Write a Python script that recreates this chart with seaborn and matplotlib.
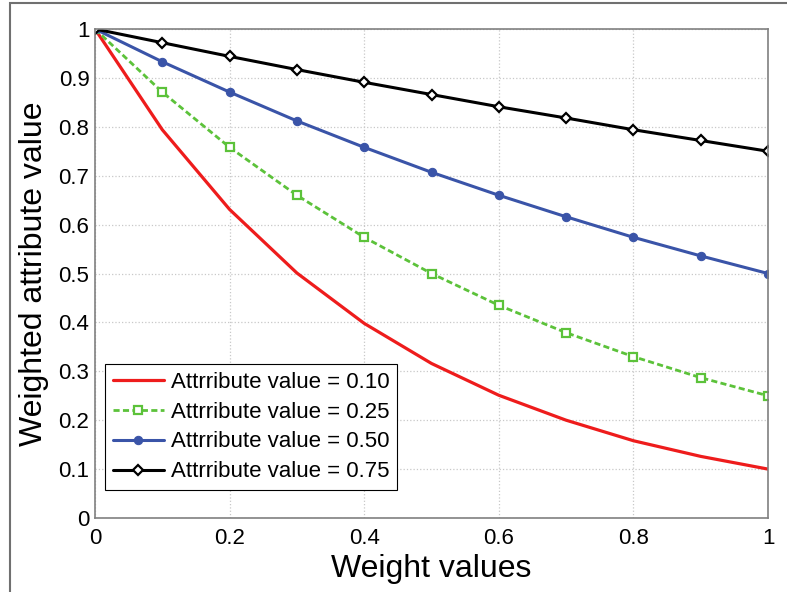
import pandas as pd
import seaborn as sns
import matplotlib.pyplot as plt
from matplotlib.patches import Rectangle

# weights on the x axis
weights = [0.0, 0.1, 0.2, 0.3, 0.4, 0.5, 0.6, 0.7, 0.8, 0.9, 1.0]

# weighted attribute values
attr_010 = [1.0, 0.794, 0.631, 0.501, 0.398, 0.316, 0.251, 0.200, 0.158, 0.126, 0.100]
attr_025 = [1.0, 0.871, 0.758, 0.660, 0.574, 0.500, 0.435, 0.379, 0.330, 0.287, 0.250]
attr_050 = [1.0, 0.933, 0.871, 0.812, 0.758, 0.707, 0.660, 0.616, 0.574, 0.536, 0.500]
attr_075 = [1.0, 0.972, 0.944, 0.917, 0.891, 0.866, 0.841, 0.818, 0.794, 0.772, 0.750]

labels = ['Attrribute value = 0.10', 'Attrribute value = 0.25',
          'Attrribute value = 0.50', 'Attrribute value = 0.75']

frames = []
for lab, vals in zip(labels, [attr_010, attr_025, attr_050, attr_075]):
    frames.append(pd.DataFrame({'Weight': weights, 'Value': vals, 'Series': lab}))
data = pd.concat(frames, ignore_index=True)

sns.set_style('white')
plt.rcParams['font.family'] = ['Liberation Sans', 'DejaVu Sans']
plt.rcParams['text.color'] = 'black'
plt.rcParams['axes.labelcolor'] = 'black'

fig = plt.figure(figsize=(7.87, 5.92), dpi=100)
ax = fig.add_axes([0.1207, 0.125, 0.8552, 0.826])

# outer frame of the original figure
fig.patches.append(Rectangle((10 / 787, -0.05), 1.2, 1.05 - 3 / 592,
                             transform=fig.transFigure, fill=False,
                             edgecolor='#707070', linewidth=1.5))

styles = {
    labels[0]: dict(color='#ee1c1c', linestyle='-', marker=None, linewidth=2.3),
    labels[1]: dict(color='#5cc23a', linestyle=(0, (2.2, 1.2)), marker='s', markersize=5.5,
                    markerfacecolor='white', markeredgecolor='#5cc23a', markeredgewidth=1.6,
                    linewidth=2.0),
    labels[2]: dict(color='#3a54a8', linestyle='-', marker='o', markersize=6,
                    markerfacecolor='#3a54a8', markeredgecolor='#3a54a8', linewidth=2.2),
    labels[3]: dict(color='black', linestyle='-', marker='D', markersize=5.5,
                    markerfacecolor='white', markeredgecolor='black', markeredgewidth=1.6,
                    linewidth=2.2),
}

for lab in labels:
    sub = data[data['Series'] == lab]
    sns.lineplot(x='Weight', y='Value', data=sub, ax=ax, label=lab, **styles[lab])

ax.set_xlim(0, 1)
ax.set_ylim(0, 1)
ax.set_xticks([0, 0.2, 0.4, 0.6, 0.8, 1])
ax.set_xticklabels(['0', '0.2', '0.4', '0.6', '0.8', '1'])
ax.set_yticks([0, 0.1, 0.2, 0.3, 0.4, 0.5, 0.6, 0.7, 0.8, 0.9, 1])
ax.set_yticklabels(['0', '0.1', '0.2', '0.3', '0.4', '0.5', '0.6', '0.7', '0.8', '0.9', '1'])
ax.tick_params(direction='in', length=5, labelsize=16, colors='black', width=0.8, pad=4)
ax.tick_params(axis='x', pad=7)
ax.tick_params(axis='both', color='#555555')
for sp in ax.spines.values():
    sp.set_color('#808080')
    sp.set_linewidth(1.2)
ax.grid(True, linestyle=':', color='#c8c8c8', linewidth=0.9)

ax.set_xlabel('Weight values', fontsize=23, labelpad=4)
ax.set_ylabel('Weighted attribute value', fontsize=23, labelpad=7)

leg = ax.legend(loc='lower left', bbox_to_anchor=(0.0149, 0.057), borderaxespad=0,
                fontsize=16, frameon=True, fancybox=False, framealpha=1,
                edgecolor='black', handlelength=2.3, handletextpad=0.3,
                borderpad=0.35, labelspacing=0.4)
leg.get_frame().set_linewidth(0.8)

plt.savefig('out.png', dpi=100)
